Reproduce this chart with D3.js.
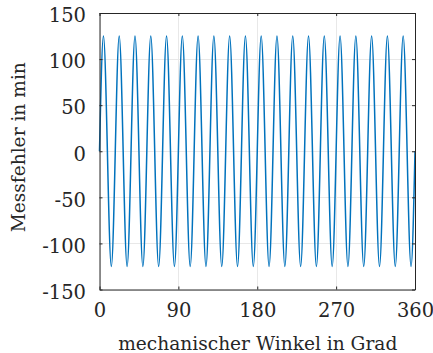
<!DOCTYPE html>
<html>
<head>
<meta charset="utf-8">
<script src="https://cdn.jsdelivr.net/npm/d3@7"></script>
<style>
  html, body { margin: 0; padding: 0; background: #fff; }
  svg { display: block; }
  text { font-family: "DejaVu Serif", "Liberation Serif", serif; fill: #262626; }
</style>
</head>
<body>
<svg id="chart" width="433" height="353"></svg>
<script>
// Measurement error over one mechanical revolution (20 electrical periods),
// sampled at every zero crossing and extremum (4.5° spacing).
const angles = [
  0, 4.5, 9, 13.5, 18, 22.5, 27, 31.5, 36, 40.5, 45, 49.5, 54, 58.5, 63, 67.5,
  72, 76.5, 81, 85.5, 90, 94.5, 99, 103.5, 108, 112.5, 117, 121.5, 126, 130.5,
  135, 139.5, 144, 148.5, 153, 157.5, 162, 166.5, 171, 175.5, 180, 184.5, 189,
  193.5, 198, 202.5, 207, 211.5, 216, 220.5, 225, 229.5, 234, 238.5, 243, 247.5,
  252, 256.5, 261, 265.5, 270, 274.5, 279, 283.5, 288, 292.5, 297, 301.5, 306,
  310.5, 315, 319.5, 324, 328.5, 333, 337.5, 342, 346.5, 351, 355.5, 360
];
const errors = [
  0, 125, 0, -125, 0, 125, 0, -125, 0, 125, 0, -125, 0, 125, 0, -125,
  0, 125, 0, -125, 0, 125, 0, -125, 0, 125, 0, -125, 0, 125,
  0, -125, 0, 125, 0, -125, 0, 125, 0, -125, 0, 125, 0,
  -125, 0, 125, 0, -125, 0, 125, 0, -125, 0, 125, 0, -125,
  0, 125, 0, -125, 0, 125, 0, -125, 0, 125, 0, -125, 0,
  125, 0, -125, 0, 125, 0, -125, 0, 125, 0, -125, 0
];
const xTicks = [0, 90, 180, 270, 360];
const yTicks = [-150, -100, -50, 0, 50, 100, 150];
const xLabel = "mechanischer Winkel in Grad";
const yLabel = "Messfehler in min";

const svg = d3.select("#chart");
const L = 99.5, R = 415, T = 13, B = 289.5;
const tickFont = "19.5px";
const labelFont = "18.6px";

const x = d3.scaleLinear().domain([0, 360]).range([L, R]);
const y = d3.scaleLinear().domain([-150, 150]).range([B, T]);

// grid
const grid = svg.append("g").attr("stroke", "#e8e8e8").attr("stroke-width", 1);
grid.selectAll(".gx").data(xTicks).join("line")
  .attr("x1", d => Math.round(x(d)) + 0.5).attr("x2", d => Math.round(x(d)) + 0.5)
  .attr("y1", T).attr("y2", B);
grid.selectAll(".gy").data(yTicks).join("line")
  .attr("y1", d => Math.round(y(d)) + 0.5).attr("y2", d => Math.round(y(d)) + 0.5)
  .attr("x1", L).attr("x2", R);

// data line
const pts = angles.map((a, i) => [a, errors[i]]);
const lineGen = d3.line().x(d => x(d[0])).y(d => y(d[1])).curve(d3.curveNatural);
svg.append("path")
  .datum(pts)
  .attr("d", lineGen)
  .attr("fill", "none")
  .attr("stroke", "#0072BD")
  .attr("stroke-width", 1.5);

// axes (box with inward ticks)
const axCol = "#262626";
const tl = 3;
const axBottom = d3.axisBottom(x).tickValues(xTicks).tickSizeInner(-tl).tickSizeOuter(0).tickPadding(14);
const axTop = d3.axisTop(x).tickValues(xTicks).tickSizeInner(-tl).tickSizeOuter(0).tickFormat("");
const axLeft = d3.axisLeft(y).tickValues(yTicks).tickSizeInner(-tl).tickSizeOuter(0).tickPadding(13.5)
  .tickFormat(d => String(d));
const axRight = d3.axisRight(y).tickValues(yTicks).tickSizeInner(-tl).tickSizeOuter(0).tickFormat("");

function style(g) {
  g.select(".domain").attr("stroke", axCol).attr("stroke-width", 1);
  g.selectAll(".tick line").attr("stroke", axCol);
  g.selectAll(".tick text").attr("fill", axCol)
    .style("font-family", '"DejaVu Serif", "Liberation Serif", serif')
    .style("font-size", tickFont);
}
svg.append("g").attr("transform", `translate(0,${B})`).call(axBottom).call(style);
svg.append("g").attr("transform", `translate(0,${T})`).call(axTop).call(style);
svg.append("g").attr("transform", `translate(${L},0)`).call(axLeft).call(style)
  .selectAll(".tick text").attr("dy", "0.45em");
svg.append("g").attr("transform", `translate(${R},0)`).call(axRight).call(style);

// axis labels
svg.append("text")
  .attr("x", (L + R) / 2 + 0.5).attr("y", 349.5)
  .attr("text-anchor", "middle")
  .style("font-size", labelFont)
  .text(xLabel);
svg.append("text")
  .attr("transform", `translate(25,${(T + B) / 2 - 4}) rotate(-90)`)
  .attr("text-anchor", "middle")
  .style("font-size", labelFont)
  .text(yLabel);
</script>
</body>
</html>
